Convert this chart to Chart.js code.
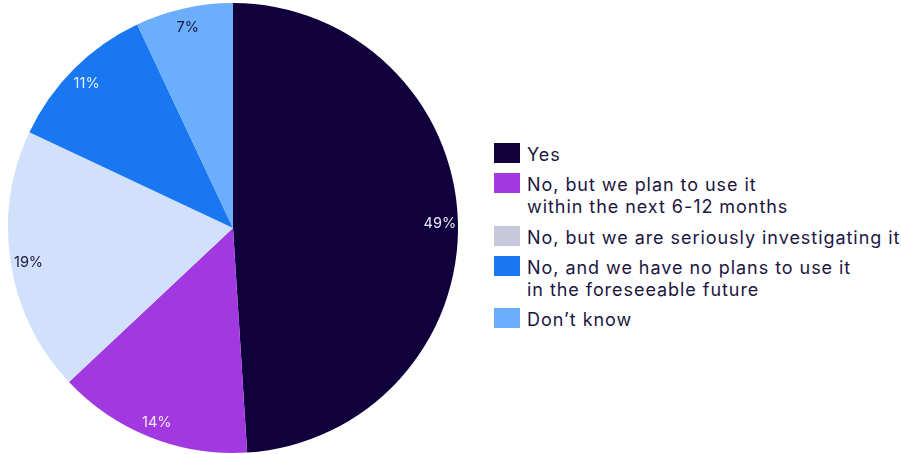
<!DOCTYPE html>
<html>
<head>
<meta charset="utf-8">
<script src="https://cdn.jsdelivr.net/npm/chart.js@4"></script>
<style>
	body { margin: 0; background: #fff; font-family: Inter, "Open Sans", sans-serif; }
	#wrap { position: relative; width: 901px; height: 454px; }
	#pie { position: absolute; left: 0; top: 0; }
	#legend { position: absolute; left: 494px; top: 144px; color: #1b1641; font-size: 18px; line-height: 22px; letter-spacing: 0.95px; white-space: nowrap; }
	.item { display: flex; align-items: flex-start; margin-bottom: 8.3px; }
	.box { width: 26px; height: 20px; margin-right: 7px; margin-top: -1px; flex: none; }
</style>
</head>
<body>
<div id="wrap">
	<canvas id="pie" width="466" height="454"></canvas>
	<div id="legend"></div>
</div>
<script>
const labels = ["Yes", "No, but we plan to use it\nwithin the next 6-12 months", "No, but we are seriously investigating it", "No, and we have no plans to use it\nin the foreseeable future", "Don\u2019t know"];
const values = [49, 14, 19, 11, 7];
const sliceColors = ["#10003c", "#a238df", "#d2e1fb", "#1a77f2", "#6aaefc"];
const legendColors = ["#10003c", "#a238df", "#c7c8dc", "#1a77f2", "#6aaefc"];
const labelColors = ["#e8e6f2", "#f3eafa", "#1b1641", "#e6effd", "#1b1641"];

// legend as html so the two-line entries wrap like the original
let legend = document.getElementById("legend");
for(let i = 0; i < labels.length; i++){
	let row = document.createElement("div");
	row.className = "item";
	let box = document.createElement("div");
	box.className = "box";
	box.style.background = legendColors[i];
	let txt = document.createElement("div");
	txt.innerHTML = labels[i].replace("\n", "<br>");
	row.appendChild(box);
	row.appendChild(txt);
	legend.appendChild(row);
}

// percent labels near the rim of each slice
const sliceLabels = {
	id: "sliceLabels",
	afterDatasetsDraw(chart){
		let ctx = chart.ctx;
		let arcs = chart.getDatasetMeta(0).data;
		ctx.save();
		ctx.font = "14.5px Inter, 'Open Sans', sans-serif";
		ctx.textAlign = "center";
		ctx.textBaseline = "middle";
		for(let i = 0; i < arcs.length; i++){
			let a = arcs[i];
			let mid = (a.startAngle + a.endAngle) / 2;
			let r = a.outerRadius * 0.92;
			ctx.fillStyle = labelColors[i];
			ctx.fillText(values[i] + "%", a.x + Math.cos(mid) * r, a.y + Math.sin(mid) * r + 2);
		}
		ctx.restore();
	}
};

let ctx = document.getElementById("pie").getContext("2d");
let chart = new Chart(ctx, {
	type: "pie",
	data: {
		labels: labels,
		datasets: [{
			data: values,
			backgroundColor: sliceColors,
			borderWidth: 0
		}]
	},
	options: {
		responsive: false,
		animation: false,
		layout: { padding: { top: 3, bottom: 1, left: 2, right: 2 } },
		plugins: {
			legend: { display: false },
			tooltip: { enabled: false }
		}
	},
	plugins: [sliceLabels]
});
</script>
</body>
</html>
